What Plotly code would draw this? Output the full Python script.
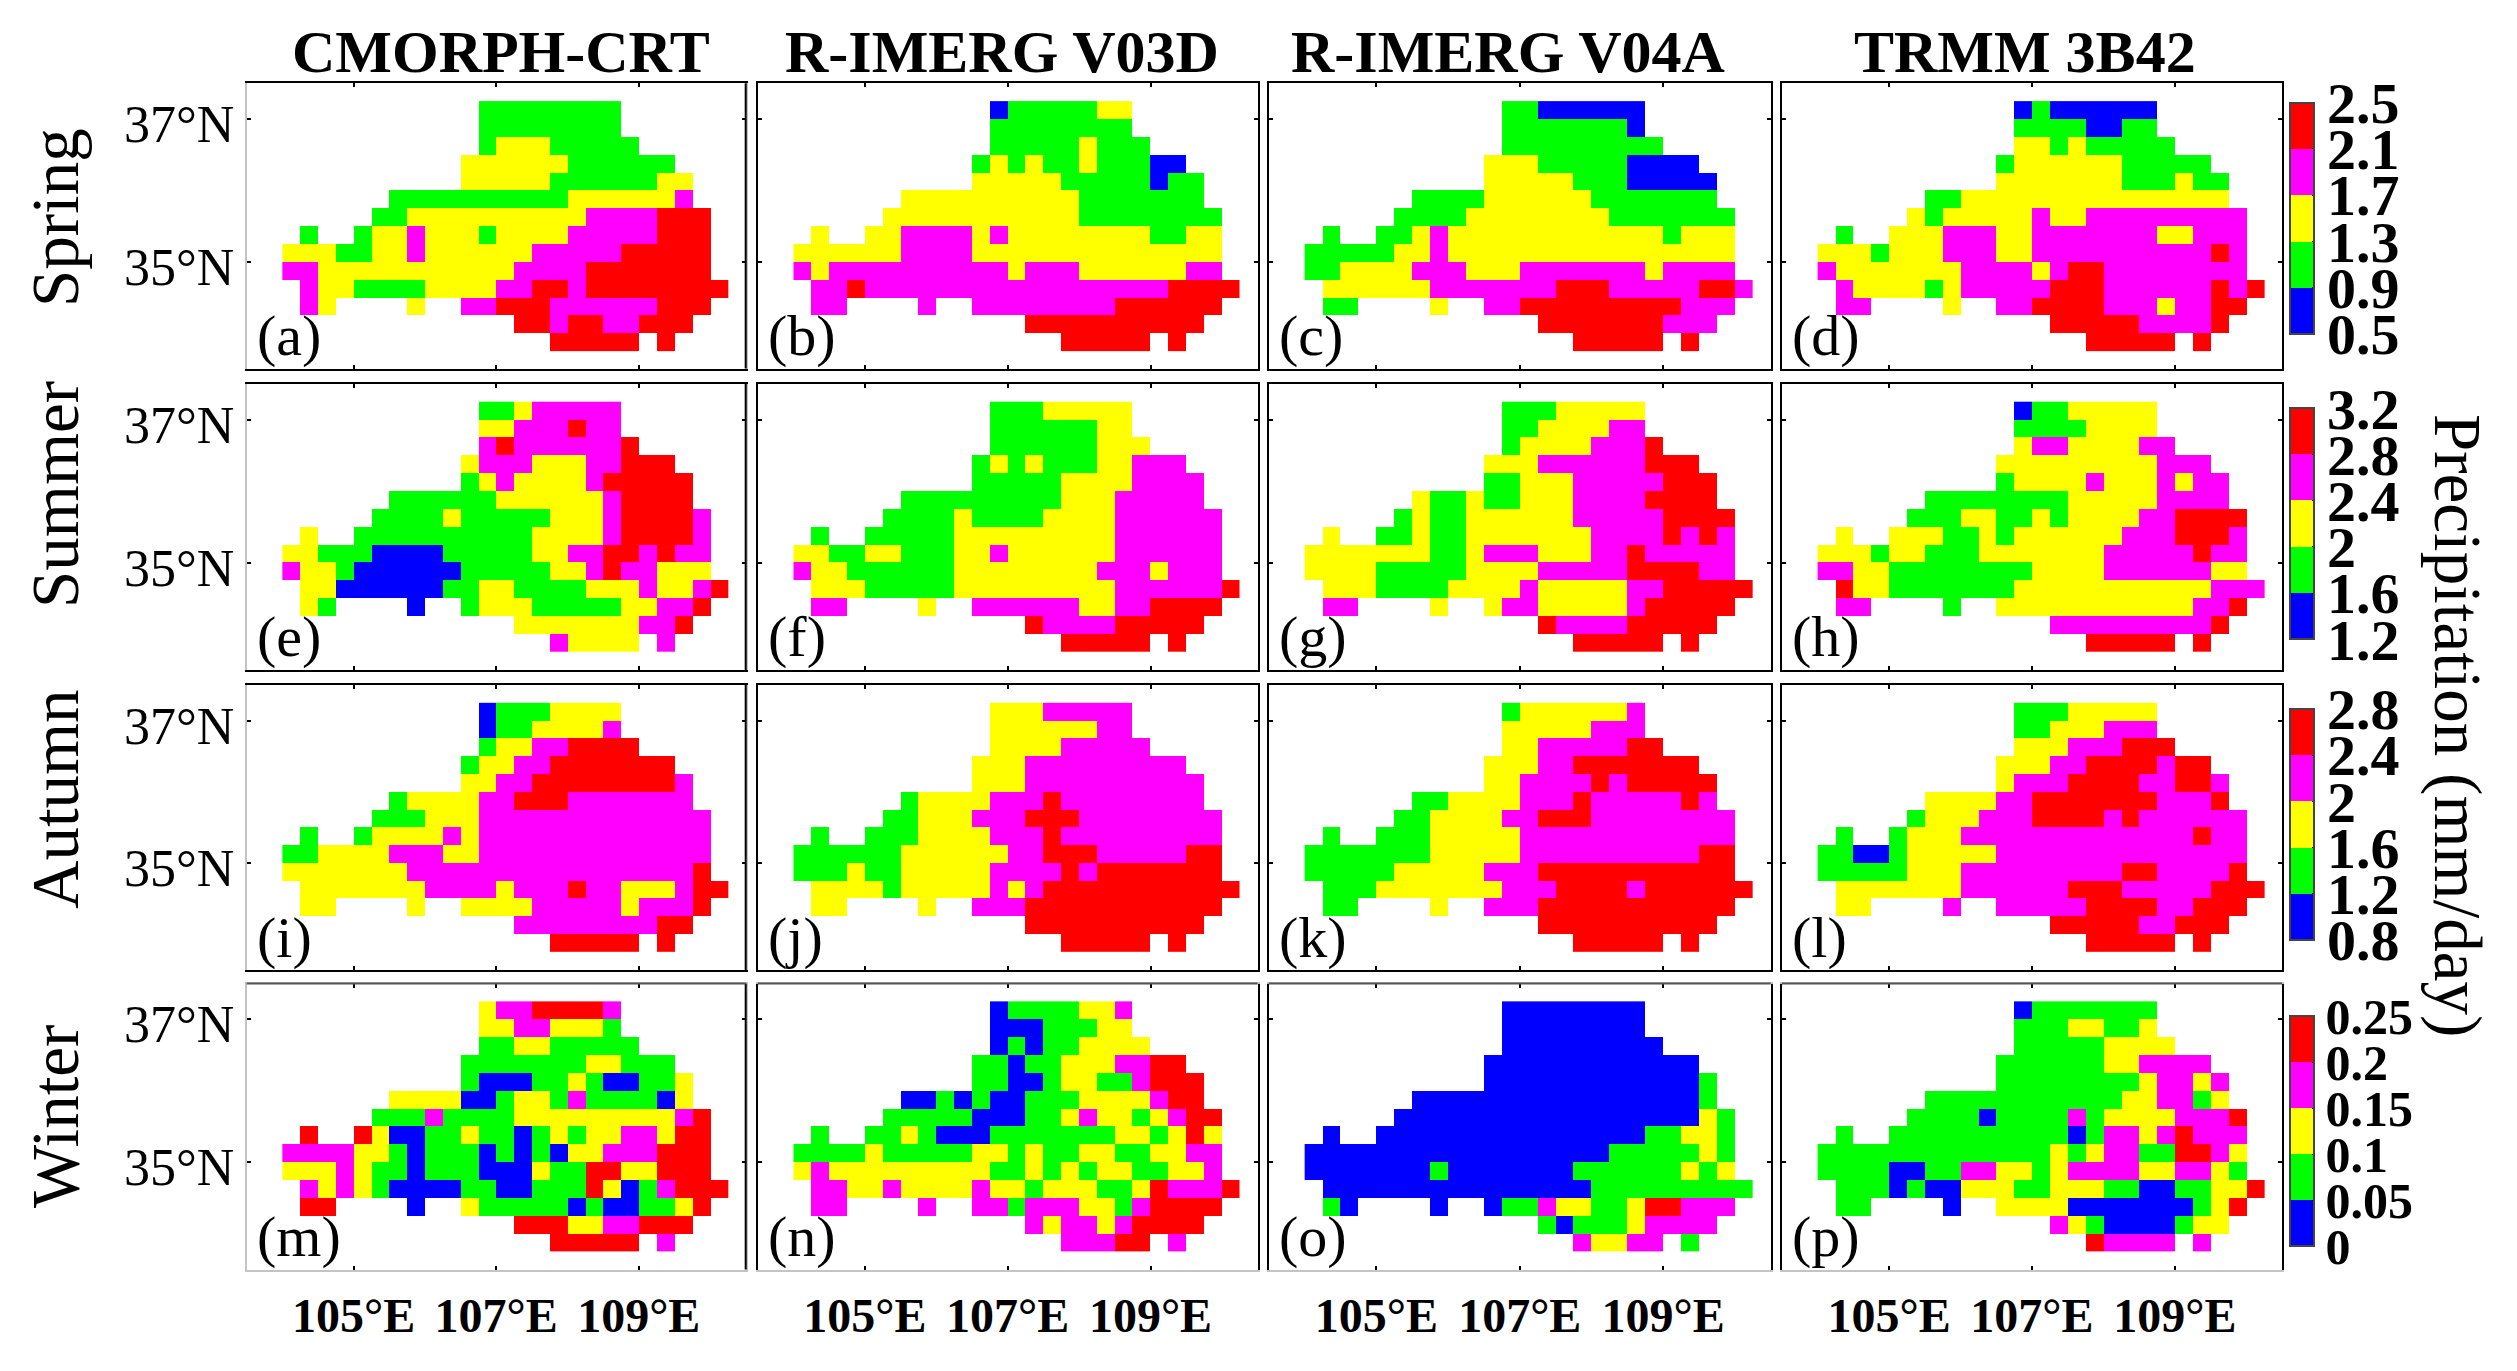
import numpy as np
import plotly.graph_objects as go
from plotly.subplots import make_subplots

products = ['CMORPH-CRT', 'R-IMERG V03D', 'R-IMERG V04A', 'TRMM 3B42']
seasons = ['Spring', 'Summer', 'Autumn', 'Winter']
panel_letters = 'abcdefghijklmnop'

# colour bar levels per season, mm/day
spring_levels = ['0.5', '0.9', '1.3', '1.7', '2.1', '2.5']
summer_levels = ['1.2', '1.6', '2', '2.4', '2.8', '3.2']
autumn_levels = ['0.8', '1.2', '1.6', '2', '2.4', '2.8']
winter_levels = ['0', '0.05', '0.1', '0.15', '0.2', '0.25']

# 0.25 degree cell centres
lons = np.arange(104.125, 110.2, 0.25)
lats = np.arange(37.125, 33.8, -0.25)

# class per cell: 1 blue .. 5 red, '.' outside the basin
a = ["...........22222222......", "...........22222222......", "...........233322222.....",
     "..........333333222222...", "..........3333322222233..", "......22222222223333334..",
     ".....2233333333334444555.", ".2..23343332333344444555.", "333223343333334444455555.",
     "443333333333344445555555.", ".433222233334455455555555", ".43....3..44555444444555.",
     ".............5545544555..", "...............55555.5..."]
b = ["...........12222233......", "...........22222222......", "...........222223222.....",
     "..........232322322211...", "..........3333322222122..", "......33333333332222222..",
     ".....3333333333322222222.", ".3..33444434333333332233.", "333333444433333333333333.",
     "434444444444344433333344.", ".445444444444444444445555", ".44....4..44444444555555.",
     ".............5555555555..", "...............55555.5..."]
c = ["...........22111111......", "...........22222221......", "...........222222222.....",
     "..........333222221111...", "..........3333322211111..", "......22223333332222222..",
     ".....2222333333332222222.", ".2..22343333333333332333.", "222223343333333333333333.",
     "223333444333444444434444.", ".333333444444455544444554", ".22....3..44555555555444.",
     ".............5555555444..", "...............55555.5..."]
d = ["...........12111111......", "...........22221122......", "...........332322222.....",
     "..........233333322222...", "..........3333333222322..", "......22333333333333333..",
     ".....3233333433444444444.", ".2..33344433444444433444.", "333233344433444444444454.",
     "433333334444345544444444.", ".433332344444555444444545", ".44....3..44555544434455.",
     ".............5555544445..", "...............55555.5..."]
e = ["...........22344444......", "...........33444544......", "...........454444445.....",
     "..........344433344555...", "..........2343333455555..", "......22222233333345555..",
     ".....2222322222333455554.", ".3..22222222223333455554.", "332221111222223344554544.",
     "433211111122222334544333.", ".331111112233222233343345", ".32....1..23332222233445.",
     ".............3333333445..", "...............43333.4..."]
f = ["...........22233333......", "...........22222233......", "...........222222333.....",
     "..........232322233444...", "..........2222233334444..", "......22222222233344444..",
     ".....2222322223333444444.", ".2..22222333333333444444.", "332233222334333333444444.",
     "433222222333333334443444.", ".333222223333333334444445", ".44....3..44444433445555.",
     ".............5444455555..", "...............55555.5..."]
g = ["...........22233333......", "...........22333344......", "...........233334445.....",
     "..........333444444555...", "..........2233344444555..", "......32232233344445555..",
     ".....2322333333444445555.", ".3..22322333333344445454.", "333333322344433344544444.",
     "333322222333344444555544.", ".333222233334333334455555", ".44....3..34433333455555.",
     ".............5444455555..", "...............55555.5..."]
h = ["...........12233333......", "...........22223333......", "...........344333344.....",
     "..........333333333444...", "..........2333343334344..", "......22222222333334444..",
     ".....2223322323333445555.", ".3..33322323333334445554.", "333233222333333344444544.",
     "443322222222333344444433.", ".533222222233333333333444", ".44....2..33333333333445.",
     ".............4444444445..", "...............55555.5..."]
i = ["...........12223333......", "...........12233334......", "...........233445555.....",
     "..........233445555555...", "..........3344555555554..", "......23333445554444444..",
     ".....2223334444444444444.", ".2..23333434444444444444.", "223333444334444444444444.",
     "333333344444444444444445.", ".333333344443444544333455", ".33....3..33334444434445.",
     ".............4444444455..", "...............55555.5..."]
j = ["...........33344444......", "...........33333344......", "...........333344444.....",
     "..........333444444444...", "..........3334444444444..", "......23333444544444444..",
     ".....2233344455544444444.", ".2..22233334445444444444.", "222222333333445554444455.",
     "222322333334444545555555.", ".333323333343455555555555", ".33....3..44455555555555.",
     ".............5555555555..", "...............55555.5..."]
k = ["...........23333334......", "...........33333444......", "...........334444455.....",
     "..........333445555555...", "..........3344445455555..", "......22333344454444454..",
     ".....2233334455544444444.", ".2..22233333444444444444.", "222222233333444444444455.",
     "222223333344455555555555.", ".222333333344455554555555", ".22....3..44455555555555.",
     ".............5555555555..", "...............55555.5..."]
l = ["...........22233333......", "...........22333444......", "...........333444555.....",
     "..........333445555455...", "..........3444555544554..", "......33334455555554445..",
     ".....2333444555545444444.", ".2..23334444444444444544.", "221123333344444444444444.",
     "222223334444444445544445.", ".333333344444455544444555", ".33....4..44444555544555.",
     ".............5555544555..", "...............55555.5..."]
m = ["...........34455554......", "...........33443332......", "...........223322222.....",
     "..........222222233222...", "..........2111223211223..", "......33331123324222213..",
     ".....2224222233333333345.", ".5..53112232212323344355.", "444433212221212133444555.",
     "333432212221113225533555.", ".434321111221122253124555", ".55....1..32222212112235.",
     ".............5553344555..", "...............55555.4..."]
n = ["...........12222334......", "...........11122233......", "...........121223333.....",
     "..........221223334455...", "..........2211233224555..", "......11212112223333455..",
     ".....2222211122343323455.", ".2..22321112222222332353.", "222232222233232233223344.",
     "343333333332232323322334.", ".443343333433233322354445", ".44....4..44244433245555.",
     ".............4344345555..", "...............44455.4..."]
o = ["...........11111111......", "...........11111111......", "...........111111111.....",
     "..........111111111111...", "..........1111111111112..", "......11111111111111112..",
     ".....1111111111111111132.", ".1..11111111111111122332.", "111111111111111112222232.",
     "111111121111111222222323.", ".111111111111111222222222", ".21....1..12243322355444.",
     ".............2122234444..", "...............43344.2..."]
p = ["...........12222222......", "...........22233223......", "...........222223333.....",
     "..........222222334444...", "..........2222222234434..", "......22222222222334423..",
     ".....2222122224233334445.", ".2..22222222221244345444.", "222222222222232344225543.",
     "222211224433234444334432.", ".222121133322333221122335", ".22....1..33331111111235.",
     ".............4321111233..", "...............54444.4..."]

panel_rows = [a, b, c, d, e, f, g, h, i, j, k, l, m, n, o, p]
season_levels = [spring_levels, summer_levels, autumn_levels, winter_levels]

colors = ['#0000ff', '#00ff00', '#ffff00', '#ff00ff', '#ff0000']
font_name = 'Liberation Serif'
faint_line = '#c4c4c4'

# the page body has an 8px margin
W, H = 2509, 1355


def px(x):
    return (x - 8) / W


def py(y):
    return 1 - (y - 8) / H


col_edges = [(246.7, 745.7), (757.8, 1257.6), (1268.8, 1770.7), (1781.9, 2282)]
row_edges = [(83.3, 368.6), (383.8, 670), (685, 970), (983.5, 1269.5)]
cbar_edges = [(103, 333.5), (408.5, 639), (708.6, 940), (1016, 1246)]
cbar_font = [58, 58, 58, 50]
title_x = [501, 1002, 1508, 2025]
season_y = [218, 495, 799, 1117]

discrete = []
for n_col, c_name in enumerate(colors):
    discrete += [[n_col / 5, c_name], [(n_col + 1) / 5, c_name]]

fig = make_subplots(rows=4, cols=4)

for r in range(4):
    levels = [float(v) for v in season_levels[r]]
    step = levels[1] - levels[0]
    for s in range(4):
        rows = panel_rows[r * 4 + s]
        z = [[None if ch == '.' else levels[0] + (int(ch) - 0.5) * step for ch in row] for row in rows]
        heat = go.Heatmap(x=lons, y=lats, z=z, zmin=levels[0], zmax=levels[-1], colorscale=discrete,
                          showscale=(s == 3), hoverongaps=False)
        if s == 3:
            heat.colorbar = dict(x=px(2290), xanchor='left', y=py(sum(cbar_edges[r]) / 2), yanchor='middle',
                                 len=cbar_edges[r][1] - cbar_edges[r][0], lenmode='pixels',
                                 thickness=24, thicknessmode='pixels', xpad=0, ypad=0,
                                 outlinecolor='#444444', outlinewidth=2, ticks='inside', ticklen=3,
                                 tickcolor='black', tickwidth=1,
                                 tickvals=levels, ticktext=season_levels[r],
                                 tickfont=dict(family=font_name, size=cbar_font[r], color='black', weight='bold'))
        fig.add_trace(heat, row=r + 1, col=s + 1)
        fig.update_xaxes(domain=[px(col_edges[s][0]), px(col_edges[s][1])], range=[103.5, 110.5],
                         tickvals=[105, 107, 109], ticktext=['105°E', '107°E', '109°E'],
                         showticklabels=(r == 3), ticks='inside', ticklen=4, tickwidth=2, tickcolor='black',
                         showline=True, mirror='ticks', linecolor=faint_line if r == 3 else 'black', linewidth=2,
                         showgrid=False, zeroline=False, ticklabelstandoff=3,
                         tickfont=dict(family=font_name, size=48, color='black', weight='bold'),
                         row=r + 1, col=s + 1)
        fig.update_yaxes(domain=[py(row_edges[r][1]), py(row_edges[r][0])], range=[33.5, 37.5],
                         tickvals=[35, 37], ticktext=['35°N', '37°N'],
                         showticklabels=(s == 0), ticks='inside', ticklen=4, tickwidth=2, tickcolor='black',
                         showline=True, mirror='ticks', linecolor=faint_line if s == 0 else 'black', linewidth=2,
                         showgrid=False, zeroline=False, ticklabelshift=5,
                         tickfont=dict(family=font_name, size=52, color='black'),
                         row=r + 1, col=s + 1)
        fig.add_annotation(text='(' + panel_letters[r * 4 + s] + ')', xref='paper', yref='paper',
                           x=px(col_edges[s][0] + 8), y=py(row_edges[r][1] - 33), xanchor='left', yanchor='middle',
                           showarrow=False, font=dict(family=font_name, size=58, color='black'))

# the faint axes only fade on one side, the opposite edges stay dark
for r in range(4):
    fig.add_shape(type='line', xref='paper', yref='paper', x0=px(col_edges[0][1]), x1=px(col_edges[0][1]),
                  y0=py(row_edges[r][0]), y1=py(row_edges[r][1]), line=dict(color='black', width=2))
for s in range(4):
    fig.add_shape(type='line', xref='paper', yref='paper', x0=px(col_edges[s][0]), x1=px(col_edges[s][1]),
                  y0=py(row_edges[3][0]), y1=py(row_edges[3][0]), line=dict(color='#555555', width=2))

for s, name in enumerate(products):
    fig.add_annotation(text=name, xref='paper', yref='paper', x=px(title_x[s]), y=py(52), xanchor='center',
                       yanchor='middle', showarrow=False,
                       font=dict(family=font_name, size=60, color='black', weight='bold'))

for r, name in enumerate(seasons):
    fig.add_annotation(text=name, xref='paper', yref='paper', x=px(55), y=py(season_y[r]), xanchor='center',
                       yanchor='middle', textangle=-90, showarrow=False,
                       font=dict(family=font_name, size=67, color='black'))

fig.add_annotation(text='Precipitation (mm/day)', xref='paper', yref='paper', x=px(2458), y=py(725),
                   xanchor='center', yanchor='middle', textangle=90, showarrow=False,
                   font=dict(family=font_name, size=67, color='black'))

fig.update_layout(width=W, height=H, margin=dict(l=0, r=0, t=0, b=0), paper_bgcolor='white',
                  plot_bgcolor='white', showlegend=False)

fig.write_html("out.html")
